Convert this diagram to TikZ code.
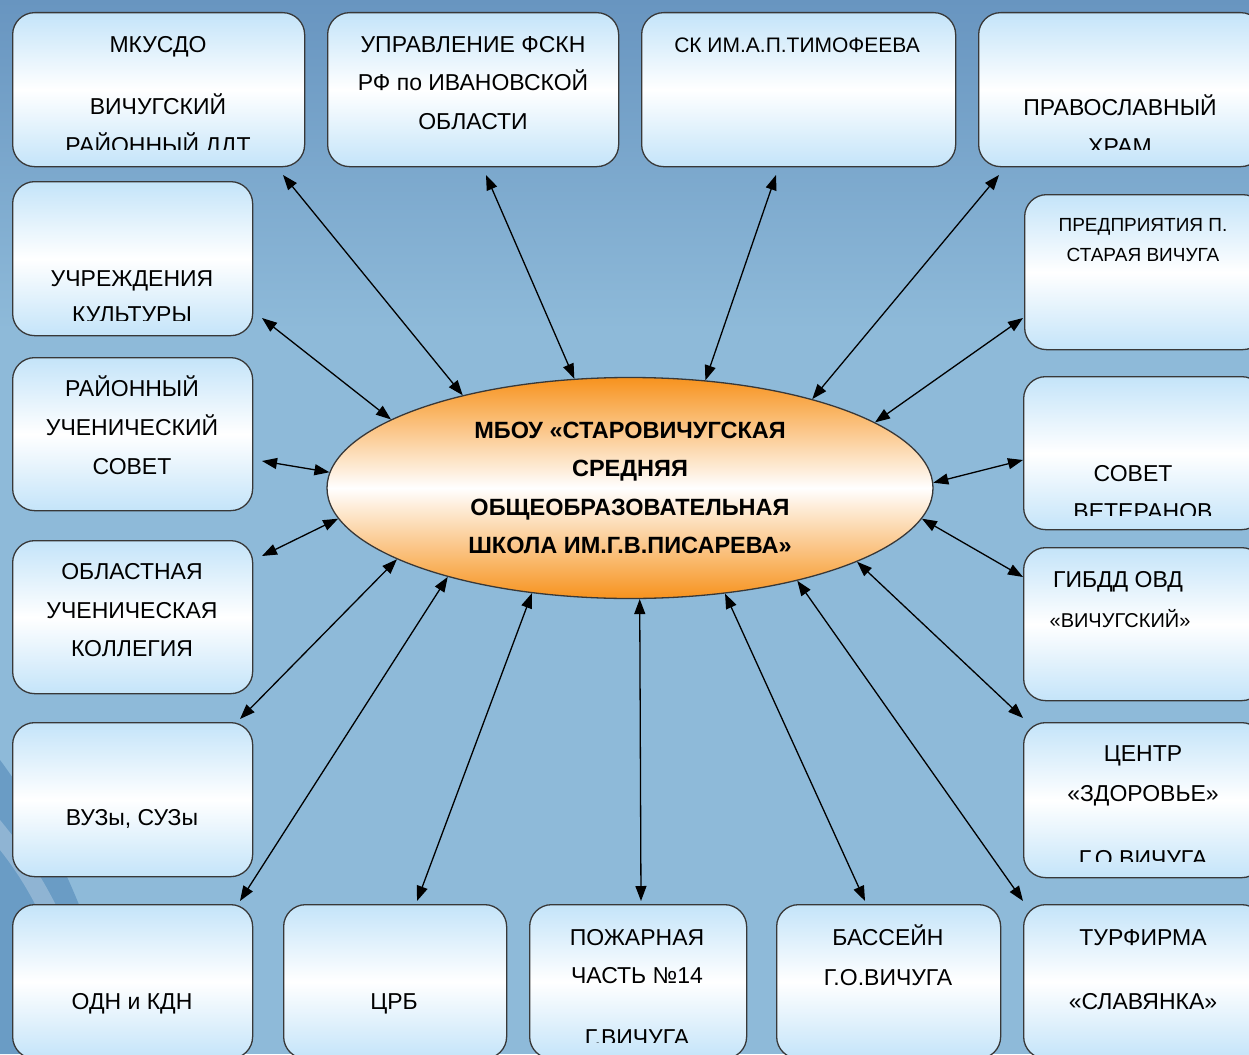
\documentclass[tikz,border=0pt]{standalone}
\usepackage{fontspec}
\setmainfont{Liberation Sans}
\usetikzlibrary{shapes.geometric,arrows.meta}
\definecolor{bgtop}{HTML}{6895C0}
\definecolor{bgmid}{HTML}{8EBAD9}
\definecolor{bgdark}{HTML}{3F78AE}
\definecolor{boxblue}{HTML}{C4E4F9}
\definecolor{orng}{HTML}{F7931E}
\definecolor{edge}{HTML}{383838}
\tikzset{
 box/.style={rounded corners=22pt, draw=edge, line width=1.3pt, top color=boxblue, bottom color=boxblue, middle color=white, anchor=north west, inner sep=0pt},
 lbox/.style={box, minimum width=240pt, minimum height=154pt},
 txt/.style={anchor=base, inner sep=0pt, font=\fontsize{23}{27}\selectfont},
 stxt/.style={anchor=base, inner sep=0pt, font=\fontsize{19}{23}\selectfont},
 link/.style={line width=1.3pt, {Triangle[length=15pt,width=11pt]}-{Triangle[length=15pt,width=11pt]}},
}
\begin{document}
\begin{tikzpicture}[x=1pt,y=-1pt]
\useasboundingbox (0,0) rectangle (1249,1054);
% background
\fill[bgmid] (0,0) rectangle (1249,1054);
\shade[top color=bgtop, bottom color=bgmid] (0,0) rectangle (1249,330);
\fill[bgdark, opacity=0.45] (0,760) .. controls (60,840) and (100,950) .. (130,1054) -- (0,1054) -- cycle;
\fill[white, opacity=0.25] (0,820) .. controls (50,880) and (90,960) .. (100,1054) -- (80,1054) .. controls (70,970) and (40,900) .. (0,850) -- cycle;

% boxes: top row
\node[box, minimum width=292pt, minimum height=154pt] (b1) at (12,12) {};
\node[box, minimum width=291pt, minimum height=154pt] (b2) at (327,12) {};
\node[box, minimum width=314pt, minimum height=154pt] (b3) at (641,12) {};
\node[box, minimum width=284pt, minimum height=154pt] (b4) at (978,12) {};
% left column
\node[lbox] (b5) at (12,181) {};
\node[lbox, minimum height=153pt] (b6) at (12,357) {};
\node[lbox, minimum height=153pt] (b7) at (12,540) {};
\node[lbox] (b8) at (12,722) {};
\node[lbox] (b9) at (12,904) {};
% bottom row
\node[box, minimum width=223pt, minimum height=154pt] (b10) at (283,904) {};
\node[box, minimum width=217pt, minimum height=154pt] (b11) at (529,904) {};
\node[box, minimum width=224pt, minimum height=154pt] (b12) at (776,904) {};
\node[lbox] (b13) at (1023,904) {};
% right column
\node[lbox, minimum height=155pt] (b14) at (1024,194) {};
\node[lbox, minimum height=153pt] (b15) at (1023,376) {};
\node[lbox, minimum height=153pt] (b16) at (1023,547) {};
\node[lbox, minimum height=155pt] (b17) at (1023,722) {};

% texts
\node[txt] (t1a) at (158,53) {МКУСДО};
\node[txt] (t1b) at (158,115) {ВИЧУГСКИЙ};
\begin{scope}\clip (12,12) rectangle (304,149);
\node[txt] (t1c) at (158,153) {РАЙОННЫЙ ДДТ};
\end{scope}
\node[txt] (t2a) at (473,53) {УПРАВЛЕНИЕ ФСКН};
\node[txt] (t2b) at (473,91) {РФ по ИВАНОВСКОЙ};
\node[txt] (t2c) at (473,129) {ОБЛАСТИ};
\node[txt, font=\fontsize{21}{25}\selectfont] (t3a) at (797,53) {СК ИМ.А.П.ТИМОФЕЕВА};
\node[txt] (t4a) at (1120,116) {ПРАВОСЛАВНЫЙ};
\begin{scope}\clip (978,12) rectangle (1262,149);
\node[txt] (t4b) at (1120,154) {ХРАМ};
\end{scope}
\node[txt] (t5a) at (132,286) {УЧРЕЖДЕНИЯ};
\begin{scope}\clip (12,181) rectangle (252,320);
\node[txt] (t5b) at (132,322) {КУЛЬТУРЫ};
\end{scope}
\node[txt] (t6a) at (132,396) {РАЙОННЫЙ};
\node[txt] (t6b) at (132,435) {УЧЕНИЧЕСКИЙ};
\node[txt] (t6c) at (132,474) {СОВЕТ};
\node[txt] (t7a) at (132,579) {ОБЛАСТНАЯ};
\node[txt] (t7b) at (132,618) {УЧЕНИЧЕСКАЯ};
\node[txt] (t7c) at (132,656) {КОЛЛЕГИЯ};
\node[txt] (t8a) at (132,825) {ВУЗы, СУЗы};
\node[txt] (t9a) at (132,1009) {ОДН и КДН};
\node[txt] (t10a) at (394,1009) {ЦРБ};
\node[txt] (t11a) at (637,945) {ПОЖАРНАЯ};
\node[txt] (t11b) at (637,983) {ЧАСТЬ №14};
\begin{scope}\clip (529,904) rectangle (746,1042);
\node[txt] (t11c) at (637,1045) {Г.ВИЧУГА};
\end{scope}
\node[txt] (t12a) at (888,945) {БАССЕЙН};
\node[txt] (t12b) at (888,985) {Г.О.ВИЧУГА};
\node[txt] (t13a) at (1143,945) {ТУРФИРМА};
\node[txt] (t13b) at (1143,1009) {«СЛАВЯНКА»};
\node[stxt] (t14a) at (1143,231) {ПРЕДПРИЯТИЯ П.};
\node[stxt] (t14b) at (1143,261) {СТАРАЯ ВИЧУГА};
\node[txt] (t15a) at (1133,481) {СОВЕТ};
\begin{scope}\clip (1023,376) rectangle (1263,515);
\node[txt] (t15b) at (1143,519) {ВЕТЕРАНОВ};
\end{scope}
\node[txt] (t16a) at (1118,587) {ГИБДД ОВД};
\node[stxt, font=\fontsize{20}{24}\selectfont] (t16b) at (1120,627) {«ВИЧУГСКИЙ»};
\node[txt] (t17a) at (1143,761) {ЦЕНТР};
\node[txt] (t17b) at (1143,801) {«ЗДОРОВЬЕ»};
\begin{scope}\clip (1023,722) rectangle (1263,861);
\node[txt] (t17c) at (1143,866) {Г.О.ВИЧУГА};
\end{scope}

% central ellipse
\node[ellipse, draw=edge, line width=1.3pt, top color=orng, bottom color=orng, middle color=white,
  minimum width=606pt, minimum height=221pt, inner sep=0pt, align=center,
  font=\bfseries\fontsize{23.5}{38.5}\selectfont] (e) at (630,488)
  {МБОУ «СТАРОВИЧУГСКАЯ\\СРЕДНЯЯ\\ОБЩЕОБРАЗОВАТЕЛЬНАЯ\\ШКОЛА ИМ.Г.В.ПИСАРЕВА»};

% connector end points near the boxes
\coordinate (a1) at (283,175);
\coordinate (a2) at (486,175);
\coordinate (a3) at (776,175);
\coordinate (a4) at (999,175);
\coordinate (a5) at (262,318);
\coordinate (a6) at (262,461);
\coordinate (a7) at (262,556);
\coordinate (a8) at (240,719);
\coordinate (a9) at (240,901);
\coordinate (a10) at (417,901);
\coordinate (a11) at (641,901);
\coordinate (a12) at (865,901);
\coordinate (a13) at (1023,901);
\coordinate (a14) at (1023,718);
\coordinate (a15) at (1023,577);
\coordinate (a16) at (1023,460);
\coordinate (a17) at (1023,318);

\draw[link] (a1) -- (e.151);
\draw[link] (a2) -- (e.117);
\draw[link] (a3) -- (e.55.4);
\draw[link] (a4) -- (e.26.1);
\draw[link] (a5) -- (e.164.1);
\draw[link] (a6) -- (e.177.9);
\draw[link] (a7) -- (e.186.7);
\draw[link] (a8) -- (e.197);
\draw[link] (a9) -- (e.206.2);
\draw[link] (a10) -- (e.227.9);
\draw[link] (a11) -- (e.275.6);
\draw[link] (a12) -- (e.312.1);
\draw[link] (a13) -- (e.331.6);
\draw[link] (a14) -- (e.342.6);
\draw[link] (a15) -- (e.354.2);
\draw[link] (a16) -- (e.1.9);
\draw[link] (a17) -- (e.15.9);
\end{tikzpicture}
\end{document}
